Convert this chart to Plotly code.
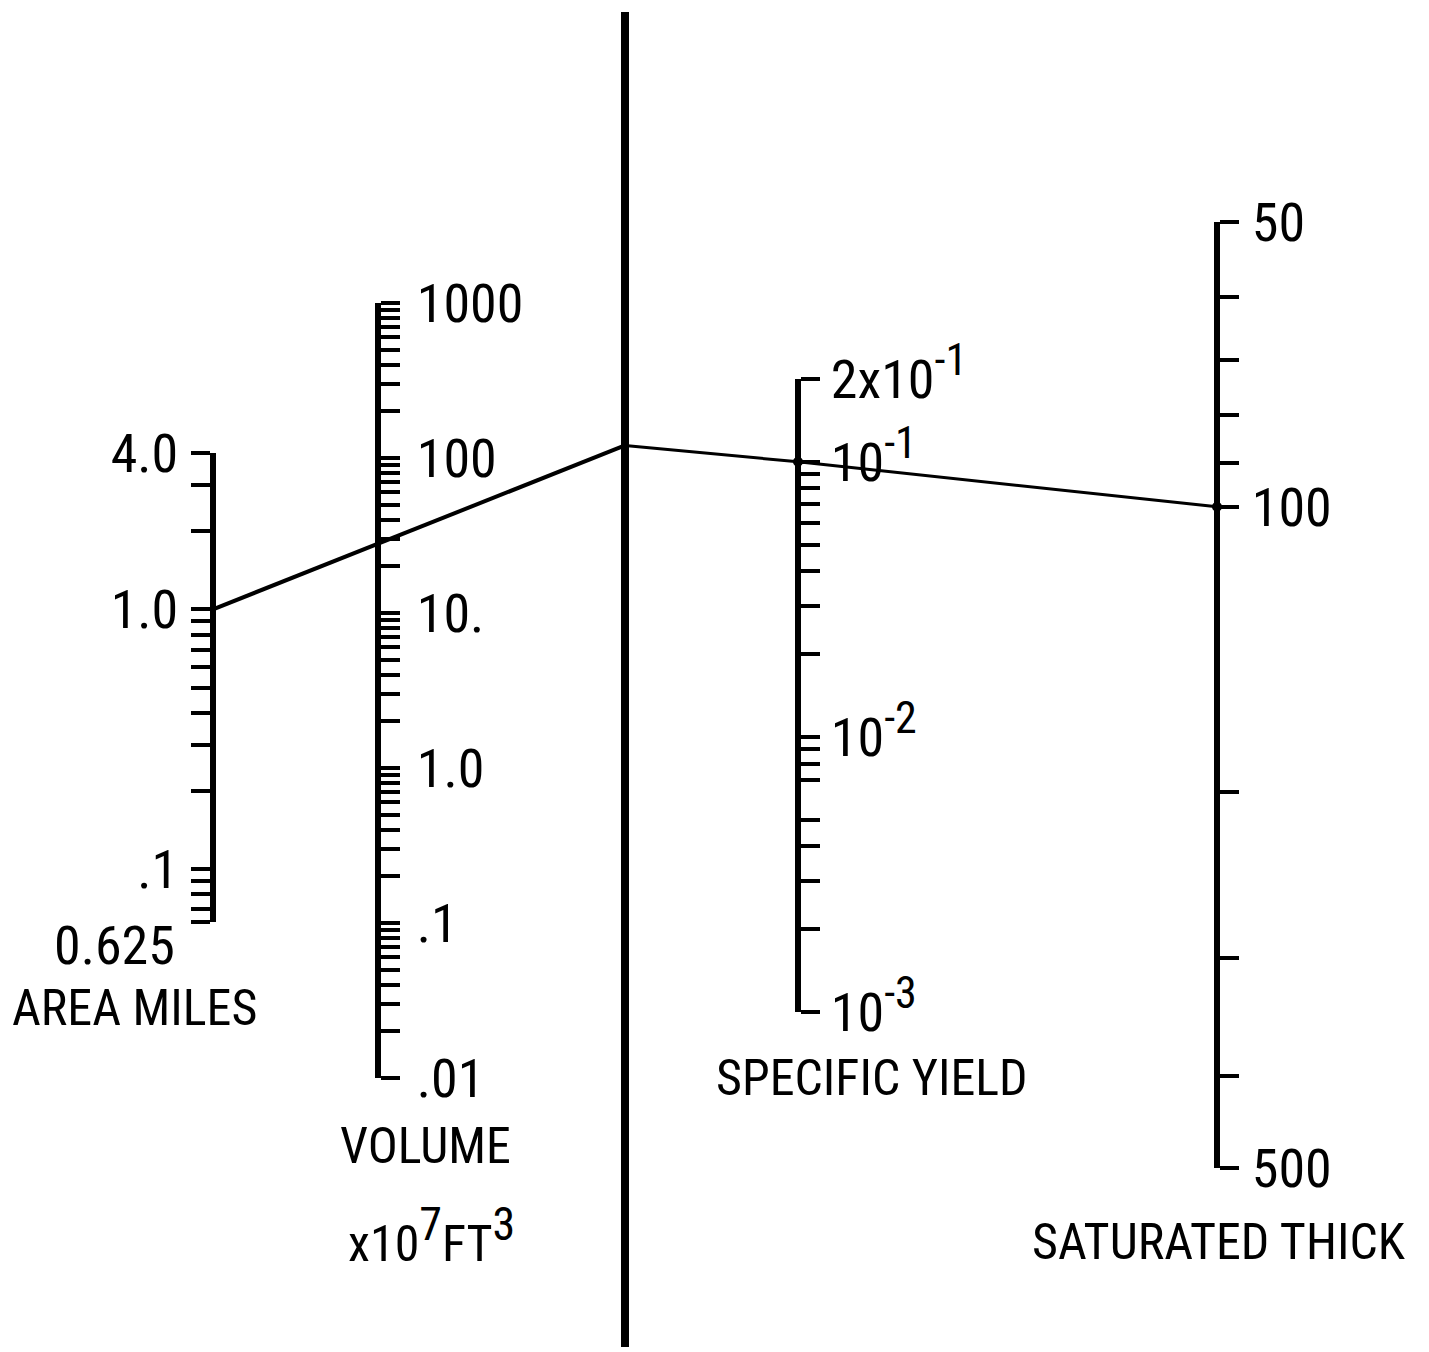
import math
import plotly.graph_objects as go

W, H = 1429, 1352
FONT = "Liberation Sans Narrow, Roboto Condensed, DejaVu Sans Condensed, Liberation Sans, sans-serif"


def sup(t, size=44):
    return "<sup><span style='font-size:%dpx'>%s</span></sup>" % (size, t)


# ---------------- data ----------------
area_tickvals = [4, 3, 2, 1, 0.9, 0.8, 0.7, 0.6, 0.5, 0.4, 0.3, 0.2, 0.1, 0.09, 0.08, 0.07, 0.0625]
area_labels = {4: "4.0", 1: "1.0", 0.1: ".1"}
area_range = [0.0625, 4]

volume_tickvals = [1000, 900, 800, 700, 600, 500, 400, 300, 200,
                   100, 90, 80, 70, 60, 50, 40, 30, 20,
                   10, 9, 8, 7, 6, 5, 4, 3, 2,
                   1, 0.9, 0.8, 0.7, 0.6, 0.5, 0.4, 0.3, 0.2,
                   0.1, 0.09, 0.08, 0.07, 0.06, 0.05, 0.04, 0.03, 0.02, 0.01]
volume_labels = {1000: "1000", 100: "100", 10: "10.", 1: "1.0", 0.1: ".1", 0.01: ".01"}
volume_range = [0.01, 1000]

yield_tickvals = [0.2, 0.1, 0.09, 0.08, 0.07, 0.06, 0.05, 0.04, 0.03, 0.02,
                  0.01, 0.009, 0.008, 0.007, 0.005, 0.004, 0.003, 0.002, 0.001]
yield_labels = {0.2: "2x10" + sup("-1"), 0.1: "10" + sup("-1"),
                0.01: "10" + sup("-2"), 0.001: "10" + sup("-3")}
yield_range = [0.001, 0.2]

thick_tickvals = [50, 60, 70, 80, 90, 100, 200, 300, 400, 500]
thick_labels = {50: "50", 100: "100", 500: "500"}
thick_range = [500, 50]  # increases downward

# example reading on the nomograph
reading_area = 1.0
reading_volume = 28
reading_yield = 0.1
reading_thick = 100

# ---------------- layout geometry (pixels of the page) ----------------
def px(p):
    return p / W

def py(p):
    return 1 - p / H

AX_AREA = dict(x=px(213), dom=[py(922), py(453)])
AX_VOL = dict(x=px(378), dom=[py(1078), py(303)])
AX_PIV = dict(x=px(625), dom=[py(1347), py(12)])
AX_SY = dict(x=px(798), dom=[py(1012), py(379)])
AX_ST = dict(x=px(1217), dom=[py(1168), py(222)])


def lrange(r):
    return [math.log10(r[0]), math.log10(r[1])]


def to_paper(v, ax, rng):
    r0, r1 = lrange(rng)
    f = (math.log10(v) - r0) / (r1 - r0)
    return ax["dom"][0] + f * (ax["dom"][1] - ax["dom"][0])


def texts(vals, labels):
    return [labels.get(v, "") for v in vals]


def log_axis(ax, rng, vals, labels, side, standoff):
    return dict(
        type="log", domain=ax["dom"], range=lrange(rng), anchor="free",
        position=ax["x"], side=side, showline=True, linewidth=6, linecolor="black",
        ticks="outside", ticklen=19, tickwidth=4, tickcolor="black",
        tickvals=vals, ticktext=texts(vals, labels),
        tickfont=dict(family=FONT, size=54, color="black"),
        ticklabelstandoff=standoff, automargin=False,
        showgrid=False, zeroline=False, fixedrange=True,
    )


fig = go.Figure()

# index line computed through the scales
xa, ya = AX_AREA["x"], to_paper(reading_area, AX_AREA, area_range)
xv, yv = AX_VOL["x"], to_paper(reading_volume, AX_VOL, volume_range)
xp = AX_PIV["x"]
yp = ya + (yv - ya) / (xv - xa) * (xp - xa)
xs, ys = AX_SY["x"], to_paper(reading_yield, AX_SY, yield_range)
xt, yt = AX_ST["x"], to_paper(reading_thick, AX_ST, thick_range)

fig.add_trace(go.Scatter(x=[xa, xv, xp], y=[ya, yv, yp], mode="lines",
                         line=dict(color="black", width=4), xaxis="x", yaxis="y",
                         hoverinfo="skip", showlegend=False))
fig.add_trace(go.Scatter(x=[xp, xs, xt], y=[yp, ys, yt], mode="lines",
                         line=dict(color="black", width=3), xaxis="x", yaxis="y",
                         hoverinfo="skip", showlegend=False))

# reading markers placed on each scale's own axis
fig.add_trace(go.Scatter(x=[xa], y=[reading_area], xaxis="x", yaxis="y2", mode="markers",
                         marker=dict(size=6, color="black"), hoverinfo="skip", showlegend=False))
fig.add_trace(go.Scatter(x=[xv], y=[reading_volume], xaxis="x", yaxis="y3", mode="markers",
                         marker=dict(size=6, color="black"), hoverinfo="skip", showlegend=False))
fig.add_trace(go.Scatter(x=[xs], y=[reading_yield], xaxis="x", yaxis="y4", mode="markers",
                         marker=dict(size=8, color="white", line=dict(color="black", width=2)),
                         hoverinfo="skip", showlegend=False))
fig.add_trace(go.Scatter(x=[xt], y=[reading_thick], xaxis="x", yaxis="y5", mode="markers",
                         marker=dict(size=8, color="white", line=dict(color="black", width=2)),
                         hoverinfo="skip", showlegend=False))
fig.add_trace(go.Scatter(x=[xp], y=[0.5], xaxis="x", yaxis="y6", mode="markers",
                         marker=dict(size=1, color="rgba(0,0,0,0)"), hoverinfo="skip", showlegend=False))

fig.update_layout(
    width=W, height=H, margin=dict(l=0, r=0, t=0, b=0, pad=0, autoexpand=False),
    paper_bgcolor="white", plot_bgcolor="rgba(0,0,0,0)",
    xaxis=dict(domain=[0, 1], range=[0, 1], visible=False, fixedrange=True, automargin=False),
    yaxis=dict(domain=[0, 1], range=[0, 1], visible=False, fixedrange=True, anchor="x",
               automargin=False),
    yaxis2=log_axis(AX_AREA, area_range, area_tickvals, area_labels, "left", 2),
    yaxis3=log_axis(AX_VOL, volume_range, volume_tickvals, volume_labels, "right", 6),
    yaxis4=log_axis(AX_SY, yield_range, yield_tickvals, yield_labels, "right", 0),
    yaxis5=log_axis(AX_ST, thick_range, thick_tickvals, thick_labels, "right", 2),
    yaxis6=dict(domain=AX_PIV["dom"], range=[0, 1], anchor="free", position=AX_PIV["x"],
                showline=True, linewidth=8, linecolor="black", ticks="", showticklabels=False,
                showgrid=False, zeroline=False, fixedrange=True, automargin=False),
    showlegend=False,
)

TF = dict(family=FONT, size=50, color="black")
annots = [
    ("AREA MILES", 134, 1008, TF),
    ("VOLUME", 425, 1146, TF),
    ("x10" + sup("7", 46) + "FT" + sup("3", 46), 431, 1235, TF),
    ("SPECIFIC YIELD", 872, 1078, TF),
    ("SATURATED THICK", 1219, 1242, TF),
]
for t, x, y, f in annots:
    fig.add_annotation(text=t, x=px(x), y=py(y), xref="paper", yref="paper",
                       showarrow=False, font=f, xanchor="center", yanchor="middle")

# bottom value of the area scale, written beneath its end
fig.add_annotation(text="0.625", x=AX_AREA["x"], y=math.log10(area_range[0]),
                   xref="paper", yref="y2", xanchor="right", yanchor="middle",
                   xshift=-36, yshift=-23, showarrow=False,
                   font=dict(family=FONT, size=54, color="black"))

fig.write_html("out.html", config={"displayModeBar": False},
               post_script="document.body.style.margin='0';document.body.style.overflow='hidden';")
